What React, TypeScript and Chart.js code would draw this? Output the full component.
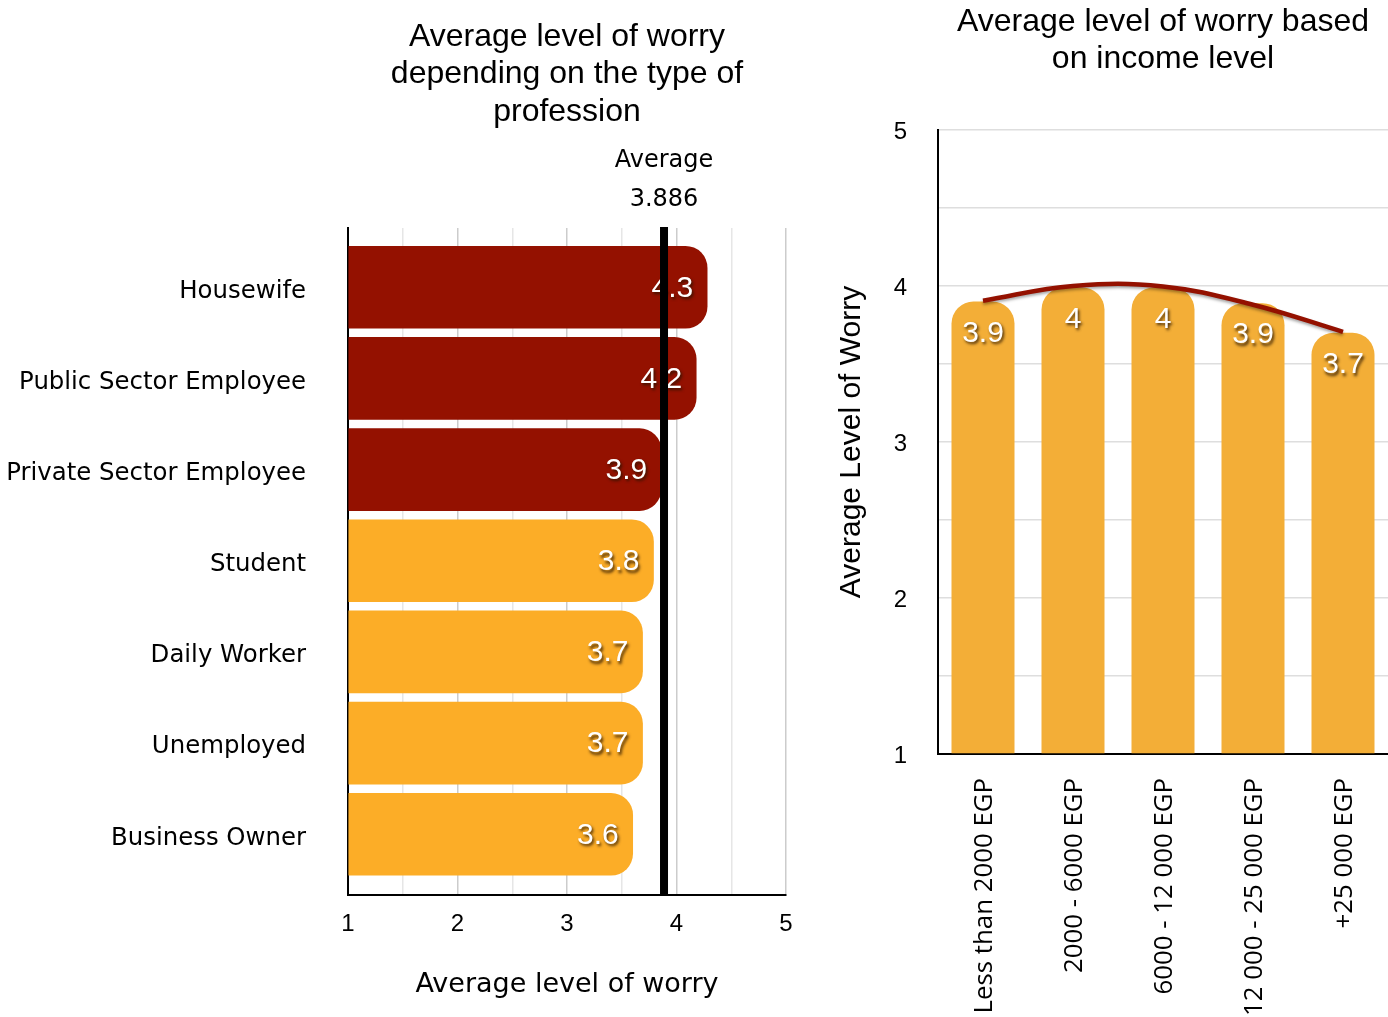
import React, { useEffect, useRef } from "react";
import { Chart, registerables } from "chart.js";

Chart.register(...registerables);

// ---------- data ----------
const professions = [
  "Housewife",
  "Public Sector Employee",
  "Private Sector Employee",
  "Student",
  "Daily Worker",
  "Unemployed",
  "Business Owner",
];
const professionWorry = [4.28, 4.18, 3.86, 3.79, 3.69, 3.69, 3.6];
const averageWorry = 3.886;
const leftTitle = ["Average level of worry", "depending on the type of", "profession"];
const leftAxisTitle = "Average level of worry";

const incomeLevels = [
  "Less than 2000 EGP",
  "2000 - 6000 EGP",
  "6000 - 12 000 EGP",
  "12 000 - 25 000 EGP",
  "+25 000 EGP",
];
const incomeWorry = [3.9, 3.99, 3.99, 3.89, 3.7];
const incomeTrend = [3.906, 4.0, 3.997, 3.88, 3.706];
const rightTitle = ["Average level of worry based", "on income level"];
const rightAxisTitle = "Average Level of Worry";

// ---------- styles ----------
const HELV = '"Liberation Sans", Arial, Helvetica, sans-serif';
const LUCIDA = '"DejaVu Sans", "Lucida Grande", sans-serif';
const OPEN = '"Open Sans", sans-serif';
const RED = "#941100";
const ORANGE = "#FCAD27";
const ORANGE2 = "#F3AE37";

const fmt = (v: number) => String(Math.round(v * 10) / 10);

function drawShadowText(ctx: CanvasRenderingContext2D, text: string, x: number, y: number) {
  ctx.save();
  ctx.shadowColor = "rgba(40,20,0,0.85)";
  ctx.shadowBlur = 3;
  ctx.shadowOffsetX = 1.5;
  ctx.shadowOffsetY = 2.5;
  ctx.fillStyle = "#ffffff";
  ctx.fillText(text, x, y);
  ctx.restore();
}

const leftDecor = {
  id: "leftDecor",
  afterDatasetsDraw(chart: any) {
    const ctx: CanvasRenderingContext2D = chart.ctx;
    const meta = chart.getDatasetMeta(0);
    ctx.save();
    ctx.font = `30px ${HELV}`;
    ctx.textAlign = "right";
    ctx.textBaseline = "middle";
    meta.data.forEach((bar: any, i: number) => {
      drawShadowText(ctx, fmt(professionWorry[i]), bar.x - 14, bar.y + 1);
    });
    ctx.restore();

    const { top, bottom, left, right } = chart.chartArea;
    const ax = chart.scales.x.getPixelForValue(averageWorry);
    ctx.save();
    ctx.fillStyle = "#000";
    ctx.fillRect(ax - 4, top - 1, 8, bottom - top + 1);
    ctx.font = `24px ${LUCIDA}`;
    ctx.textAlign = "center";
    ctx.textBaseline = "middle";
    ctx.fillText("Average", ax, top - 67);
    ctx.fillText(String(averageWorry), ax, top - 28);
    ctx.font = `32px ${HELV}`;
    const cx = (left + right) / 2;
    leftTitle.forEach((t, i) => ctx.fillText(t, cx, 37 + i * 37.5));
    ctx.restore();
  },
};

const rightDecor = {
  id: "rightDecor",
  beforeDatasetDraw(chart: any, args: any) {
    if (chart.data.datasets[args.index].type === "line") {
      const ctx = chart.ctx;
      ctx.save();
      ctx.shadowColor = "rgba(0,0,0,0.35)";
      ctx.shadowBlur = 3;
      ctx.shadowOffsetY = 2;
    }
  },
  afterDatasetDraw(chart: any, args: any) {
    if (chart.data.datasets[args.index].type === "line") {
      chart.ctx.restore();
    }
  },
  afterDatasetsDraw(chart: any) {
    const ctx: CanvasRenderingContext2D = chart.ctx;
    const idx = chart.data.datasets.findIndex((d: any) => d.type === "bar");
    const meta = chart.getDatasetMeta(idx);
    ctx.save();
    ctx.font = `30px ${HELV}`;
    ctx.textAlign = "center";
    ctx.textBaseline = "middle";
    meta.data.forEach((bar: any, i: number) => {
      drawShadowText(ctx, fmt(incomeWorry[i]), bar.x, bar.y + 32);
    });
    ctx.restore();

    const { left, right } = chart.chartArea;
    ctx.save();
    ctx.fillStyle = "#000";
    ctx.font = `32px ${HELV}`;
    ctx.textAlign = "center";
    ctx.textBaseline = "middle";
    rightTitle.forEach((t, i) => ctx.fillText(t, (left + right) / 2, 22 + i * 37.5));
    ctx.restore();
  },
};

export default function App() {
  const leftRef = useRef<HTMLCanvasElement>(null);
  const rightRef = useRef<HTMLCanvasElement>(null);

  useEffect(() => {
    const left = new Chart(leftRef.current as HTMLCanvasElement, {
      type: "bar",
      data: {
        datasets: [
          {
            data: professions.map((_, i) => ({ x: professionWorry[i], y: i })),
            backgroundColor: (c: any) => (c.dataIndex < 3 ? RED : ORANGE),
            base: 1,
            barThickness: 82,
            borderRadius: 22,
            borderSkipped: "start",
          } as any,
        ],
      },
      options: {
        indexAxis: "y",
        animation: false,
        responsive: false,
        devicePixelRatio: 1,
        events: [],
        layout: { padding: { top: 228, right: 24, left: 0, bottom: 0 } },
        plugins: { legend: { display: false }, tooltip: { enabled: false }, title: { display: false } },
        scales: {
          x: {
            type: "linear",
            min: 1,
            max: 5,
            offset: false,
            ticks: {
              stepSize: 0.5,
              padding: 15,
              color: "#000",
              font: { family: HELV, size: 24 },
              callback: (v: any) => (Number.isInteger(v) ? String(v) : ""),
            },
            grid: {
              drawTicks: false,
              lineWidth: 1.5,
              color: (c: any) => (Number.isInteger(c.tick?.value) ? "#cccccc" : "#e6e6e6"),
            },
            border: { color: "#000", width: 2 },
            title: {
              display: true,
              text: leftAxisTitle,
              color: "#000",
              font: { family: LUCIDA, size: 27 },
              padding: { top: 0, bottom: 16 },
            },
            afterFit: (s: any) => {
              s.height = 122;
              s.paddingLeft = 0;
              s.paddingRight = 0;
            },
          },
          y: {
            type: "linear",
            min: -0.65,
            max: 6.666,
            reverse: true,
            offset: false,
            afterBuildTicks: (s: any) => {
              s.ticks = professions.map((_, i) => ({ value: i }));
            },
            ticks: {
              autoSkip: false,
              padding: 42,
              labelOffset: 4,
              color: "#000",
              font: { family: LUCIDA, size: 24.4 },
              callback: (v: any) => professions[v] ?? "",
            },
            grid: { display: false, drawTicks: false, offset: false },
            border: { color: "#000", width: 2 },
            afterFit: (s: any) => {
              s.width = 348;
              s.paddingTop = 0;
              s.paddingBottom = 0;
            },
          },
        },
      } as any,
      plugins: [leftDecor],
    });

    const right = new Chart(rightRef.current as HTMLCanvasElement, {
      type: "bar",
      data: {
        labels: incomeLevels,
        datasets: [
          {
            type: "line",
            data: incomeTrend,
            borderColor: RED,
            borderWidth: 4.5,
            pointRadius: 0,
            tension: 0.4,
            fill: false,
            order: 0,
          } as any,
          {
            type: "bar",
            data: incomeWorry,
            backgroundColor: ORANGE2,
            base: 1,
            categoryPercentage: 1,
            barPercentage: 0.7,
            borderRadius: 22,
            borderSkipped: "start",
            order: 1,
          } as any,
        ],
      },
      options: {
        animation: false,
        responsive: false,
        devicePixelRatio: 1,
        events: [],
        layout: { padding: { top: 130, right: 0, left: 0, bottom: 0 } },
        plugins: { legend: { display: false }, tooltip: { enabled: false }, title: { display: false } },
        scales: {
          x: {
            type: "category",
            offset: true,
            grid: { display: false, drawTicks: false },
            border: { color: "#000", width: 2 },
            ticks: {
              autoSkip: false,
              minRotation: 90,
              maxRotation: 90,
              padding: 24,
              labelOffset: 2,
              color: "#000",
              font: { family: OPEN, size: 25.8 },
            },
            afterFit: (s: any) => {
              s.height = 263;
              s.paddingLeft = 0;
              s.paddingRight = 0;
            },
          },
          y: {
            type: "linear",
            min: 1,
            max: 5,
            ticks: {
              stepSize: 0.5,
              padding: 31,
              labelOffset: 2,
              color: "#000",
              font: { family: HELV, size: 24 },
              callback: (v: any) => (Number.isInteger(v) ? String(v) : ""),
            },
            grid: { drawTicks: false, color: "#dedede", lineWidth: 1.5 },
            border: { color: "#000", width: 2 },
            title: {
              display: true,
              text: rightAxisTitle,
              color: "#000",
              font: { family: HELV, size: 30 },
              padding: { top: 24, bottom: 0 },
            },
            afterFit: (s: any) => {
              s.width = 128;
              s.paddingTop = 0;
              s.paddingBottom = 0;
            },
          },
        },
      } as any,
      plugins: [rightDecor],
    });

    return () => {
      left.destroy();
      right.destroy();
    };
  }, []);

  return (
    <div style={{ position: "absolute", left: 0, top: 0, width: 1388, height: 1017, background: "#fff", overflow: "hidden" }}>
      <canvas ref={leftRef} width={810} height={1017} style={{ position: "absolute", left: 0, top: 0 }} />
      <canvas ref={rightRef} width={578} height={1017} style={{ position: "absolute", left: 810, top: 0 }} />
    </div>
  );
}
